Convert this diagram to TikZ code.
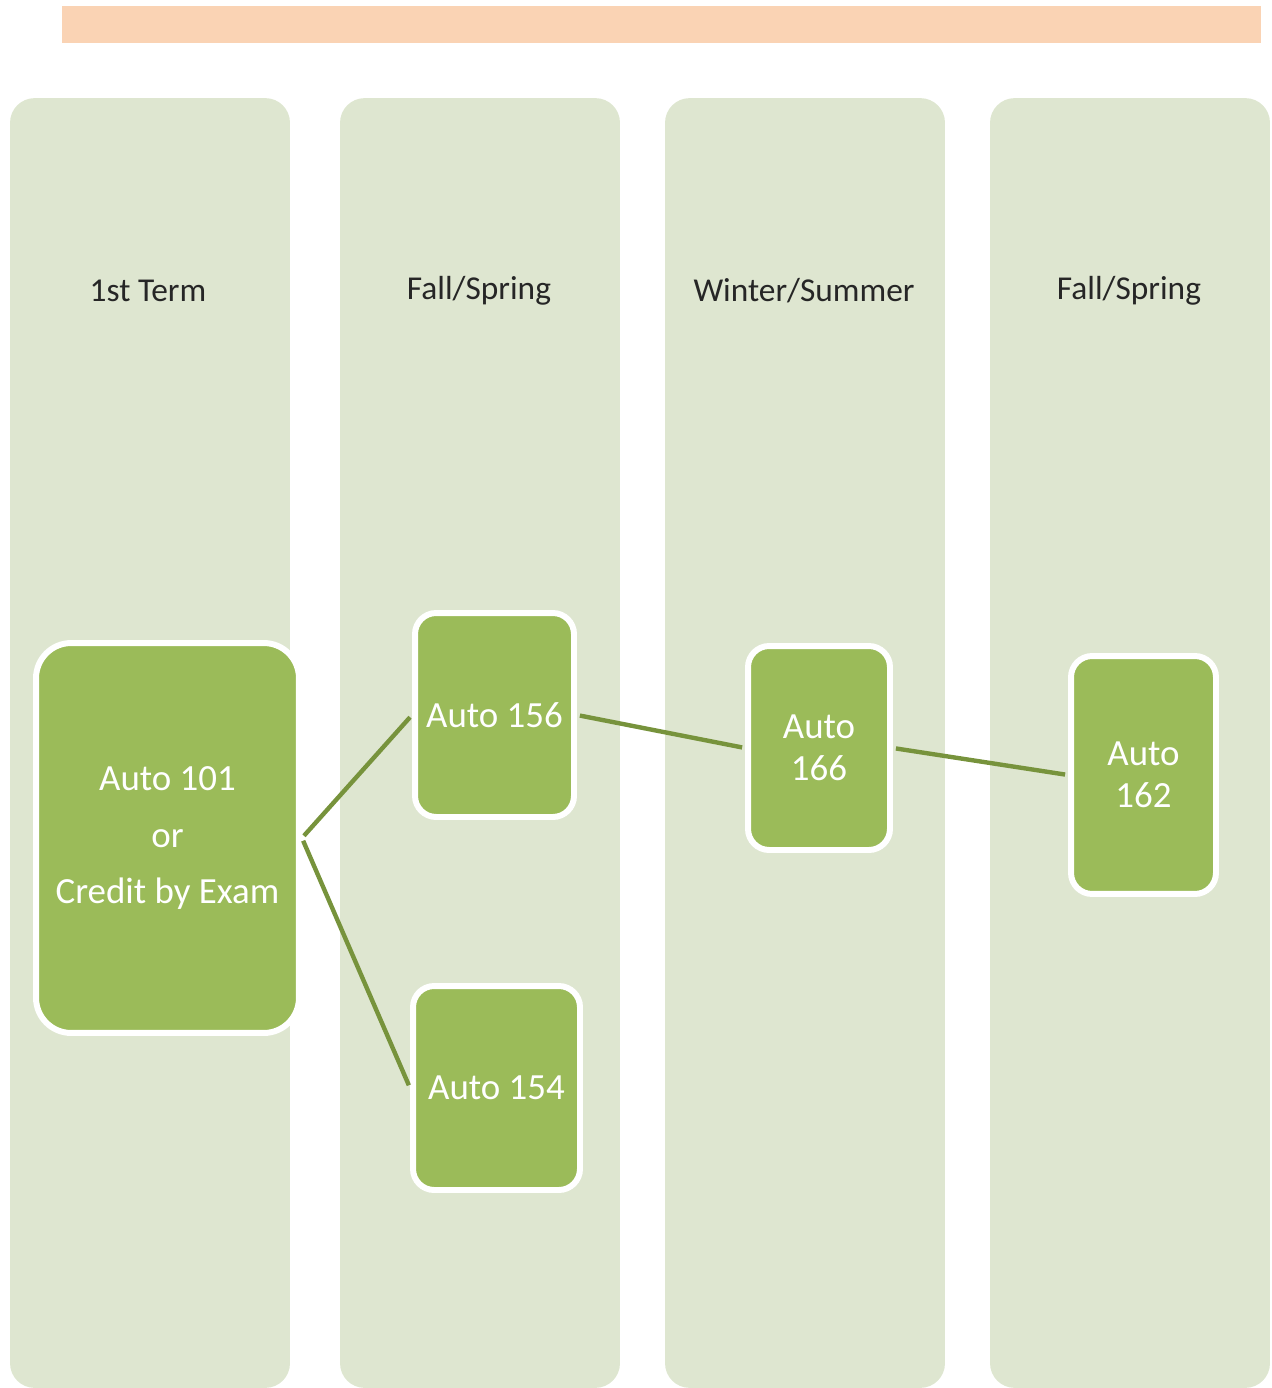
\documentclass[tikz,border=0pt]{standalone}
\usepackage{fontspec}
\setmainfont{Carlito}
\usepackage{tikz}
\usetikzlibrary{shadows}
\definecolor{barpeach}{HTML}{FAD3B4}
\definecolor{colgreen}{HTML}{DEE6D0}
\definecolor{boxgreen}{HTML}{9BBB59}
\definecolor{linkgreen}{HTML}{77933C}
\definecolor{headgray}{HTML}{262626}

\tikzset{
  column/.style={rectangle, rounded corners=14pt, fill=colgreen,
    minimum width=5.6cm, minimum height=25.8cm, inner sep=0pt},
  header/.style={font=\fontsize{19}{23}\selectfont, text=headgray, align=center},
  course/.style={rectangle, rounded corners=12pt, fill=boxgreen, draw=white,
    line width=3.4pt, align=center, text=white, inner sep=2pt,
    font=\fontsize{21}{24}\selectfont,
    drop shadow={opacity=0.25, shadow xshift=0.8pt, shadow yshift=-0.8pt}},
  link/.style={draw=linkgreen, line width=2.5pt, shorten <=1.7pt, shorten >=1.7pt}
}

\begin{document}
\begin{tikzpicture}[x=0.02cm, y=-0.02cm]
  \useasboundingbox (0,0) rectangle (1271,1388);

  % title bar
  \node[rectangle, fill=barpeach, minimum width=23.98cm, minimum height=0.74cm,
    inner sep=0pt] (titlebar) at (661.5,24.5) {};

  % term columns
  \node[column] (col1) at (150,743) {};
  \node[column] (col2) at (480,743) {};
  \node[column] (col3) at (805,743) {};
  \node[column] (col4) at (1130,743) {};

  \node[header] (head1) at (148,291) {1st Term};
  \node[header] (head2) at (479,291) {Fall/Spring};
  \node[header] (head3) at (804,291) {Winter/Summer};
  \node[header] (head4) at (1129,291) {Fall/Spring};

  % courses
  \node[course, rounded corners=20pt, minimum width=5.26cm, minimum height=7.8cm]
    (b101) at (167.5,838) {Auto 101\\[0.29cm] or\\[0.29cm] Credit by Exam};
  \node[course, minimum width=3.18cm, minimum height=4.08cm] (b156) at (494.5,715) {Auto 156};
  \node[course, minimum width=3.34cm, minimum height=4.08cm] (b154) at (496.5,1088) {Auto 154};
  \node[course, minimum width=2.84cm, minimum height=4.08cm] (b166) at (819,748) {Auto\\166};
  \node[course, minimum width=2.9cm, minimum height=4.76cm] (b162) at (1143.5,775) {Auto\\162};

  % prerequisites
  \draw[link] (b101.east) -- (b156.west);
  \draw[link] (b101.east) -- (b154.west);
  \draw[link] (b156.east) -- (b166.west);
  \draw[link] (b166.east) -- (b162.west);
\end{tikzpicture}
\end{document}
